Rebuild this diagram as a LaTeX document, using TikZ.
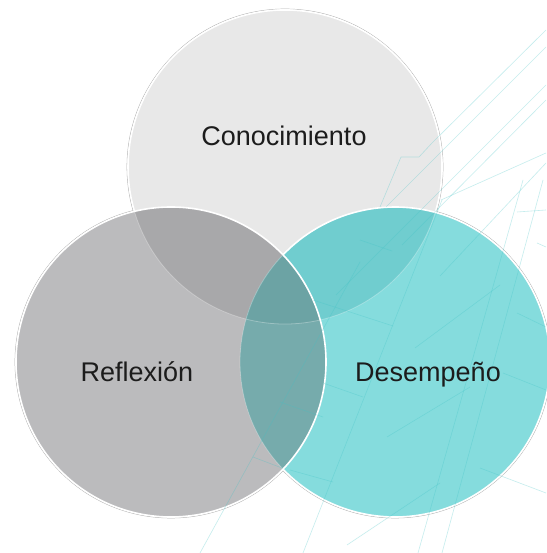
\documentclass[tikz,border=0pt]{standalone}
\usepackage{fontspec}
\setmainfont{Liberation Sans}
\definecolor{topc}{HTML}{E8E8E8}
\definecolor{leftc}{HTML}{BBBBBD}
\definecolor{rightc}{HTML}{85DCDD}
\definecolor{tlc}{HTML}{A8A8AA}
\definecolor{trc}{HTML}{70CDCF}
\definecolor{lrc}{HTML}{76ABAC}
\definecolor{tlrc}{HTML}{6CA3A4}
\definecolor{decoteal}{HTML}{3FC3C6}
\definecolor{txt}{HTML}{1C1C1C}
\begin{document}
\begin{tikzpicture}[x=1pt,y=1pt,
  lbl/.style={font=\fontsize{27}{32}\selectfont, text=txt, inner sep=0pt, anchor=base},
  deco/.style={draw=decoteal, line width=0.6pt, opacity=0.3},
  shadowline/.style={draw=black!30, line width=0.6pt},
  rim/.style={draw=white, line width=1.6pt},
  faintrim/.style={draw=white, line width=0.8pt, opacity=0.3}]
\useasboundingbox (0,0) rectangle (546,553);
\fill[white] (0,0) rectangle (546,553);
\coordinate (T) at (285,386);
\coordinate (L) at (171,191);
\coordinate (R) at (395,191);
% outer shadows
\draw[shadowline] (T) circle[radius=158];
\draw[shadowline] (R) circle[radius=156];
\draw[shadowline] (L) circle[radius=156];
% base fills
\fill[topc] (T) circle[radius=157];
\fill[rightc] (R) circle[radius=155];
\fill[leftc] (L) circle[radius=155];
% overlaps
\begin{scope}\clip (T) circle[radius=157]; \fill[tlc] (L) circle[radius=155]; \end{scope}
\begin{scope}\clip (T) circle[radius=157]; \fill[trc] (R) circle[radius=155]; \end{scope}
\begin{scope}\clip (L) circle[radius=155]; \fill[lrc] (R) circle[radius=155]; \end{scope}
\begin{scope}\clip (T) circle[radius=157]; \clip (L) circle[radius=155]; \fill[tlrc] (R) circle[radius=155]; \end{scope}
% rims
\draw[rim] (T) ++(-16.8:157) arc[start angle=-16.8, end angle=196.4, radius=157];
\draw[faintrim] (T) ++(196.4:157) arc[start angle=196.4, end angle=343.2, radius=157];
\draw[rim] (R) ++(-136.3:155) arc[start angle=-136.3, end angle=136.3, radius=155];
\draw[faintrim] (R) ++(136.3:155) arc[start angle=136.3, end angle=223.7, radius=155];
\draw[rim] (L) circle[radius=155];
% decorative background lines (image coordinates)
\begin{scope}[shift={(0,553)}, yscale=-1]
\draw[deco] (546,30) -- (432,143) -- (419,157) -- (401,157) -- (380,207);
\draw[deco] (546,47) -- (386,207);
\draw[deco] (546,85) -- (336,295);
\draw[deco] (546,100) -- (402,245);
\draw[deco] (546,153) -- (441,200);
\draw[deco] (546,163) -- (440,276);
\draw[deco] (200,553) -- (360,262);
\draw[deco] (303,553) -- (442,200);
\draw[deco] (418,553) -- (523,180);
\draw[deco] (442,553) -- (543,180);
\draw[deco] (415,348) -- (500,285);
\draw[deco] (387,437) -- (470,387);
\draw[deco] (347,545) -- (440,483);
\draw[deco] (360,240) -- (392,251);
\draw[deco] (313,300) -- (393,326);
\draw[deco] (323,383) -- (363,397);
\draw[deco] (280,402) -- (323,417);
\draw[deco] (253,457) -- (282,468);
\draw[deco] (290,470) -- (333,482);
\draw[deco] (517,313) -- (546,327);
\draw[deco] (503,373) -- (546,390);
\draw[deco] (480,468) -- (546,493);
\draw[deco] (517,212) -- (546,210);
\draw[deco] (537,243) -- (546,247);
\end{scope}
% labels
\node[lbl] (con) at (284,407) {Conocimiento};
\node[lbl] (ref) at (137,171) {Reflexión};
\node[lbl] (des) at (428,171) {Desempeño};
\end{tikzpicture}
\end{document}
